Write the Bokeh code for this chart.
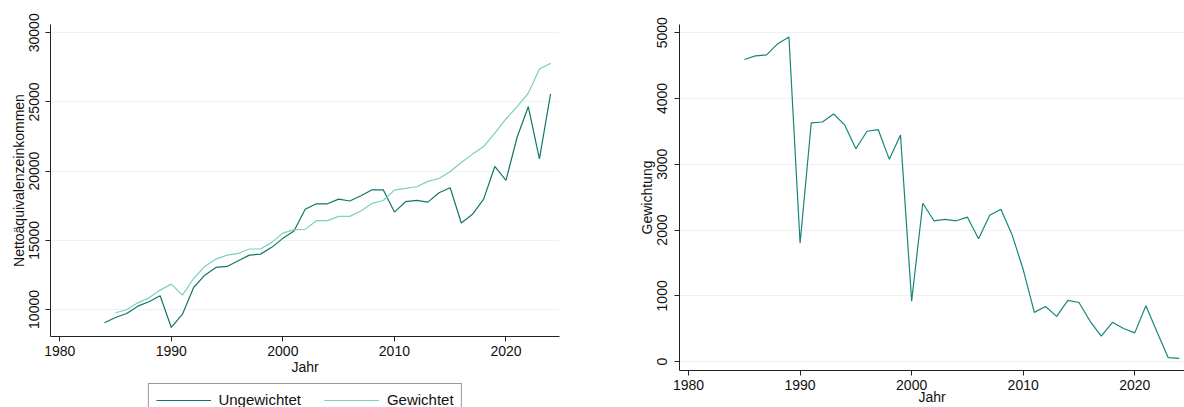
from bokeh.plotting import figure
from bokeh.layouts import row, column
from bokeh.models import Legend, LegendItem, FixedTicker, Range1d
from bokeh.embed import file_html
from bokeh.resources import INLINE

# ---- data ----
years_u = list(range(1984, 2025))
ungewichtet = [9035, 9420, 9710, 10240, 10555, 10990, 8700, 9660, 11590, 12480,
               13040, 13110, 13520, 13930, 14000, 14490, 15140, 15670, 17240, 17640,
               17640, 17980, 17840, 18220, 18650, 18650, 17040, 17790, 17880, 17760,
               18440, 18800, 16250, 16880, 17980, 20340, 19330, 22450, 24660, 20890,
               25580]
years_g = list(range(1985, 2025))
gewichtet = [9760, 9980, 10480, 10840, 11400, 11830, 11040, 12240, 13110, 13640,
             13930, 14050, 14370, 14370, 14850, 15520, 15770, 15790, 16420, 16420,
             16730, 16730, 17120, 17670, 17880, 18630, 18750, 18870, 19260, 19470,
             19980, 20630, 21230, 21780, 22740, 23770, 24660, 25630, 27380, 27790]
years_w = list(range(1985, 2025))
gewichtung = [4593, 4648, 4663, 4834, 4935, 1799, 3628, 3643, 3764, 3598,
              3236, 3502, 3528, 3075, 3447, 920, 2407, 2141, 2161, 2141,
              2196, 1869, 2226, 2317, 1930, 1400, 749, 839, 688, 930,
              899, 613, 387, 598, 503, 437, 849, 450, 60, 50]
x_ticks = [1980, 1990, 2000, 2010, 2020]
y_ticks_left = [10000, 15000, 20000, 25000, 30000]
y_ticks_right = [0, 1000, 2000, 3000, 4000, 5000]
legend_labels = ["Ungewichtet", "Gewichtet"]

FONT = "Liberation Sans"
FS = "14px"
DARK = "#11766a"
LIGHT = "#7fcfb9"
RIGHTC = "#168679"
GRID = "#edf3f3"


def style(p, xticks, yticks, xlabel, ylabel, ystand):
    p.outline_line_color = None
    p.background_fill_color = "white"
    p.border_fill_color = "white"
    p.xgrid.visible = False
    p.ygrid.grid_line_color = GRID
    p.ygrid.grid_line_width = 1
    p.xaxis.ticker = FixedTicker(ticks=xticks)
    p.yaxis.ticker = FixedTicker(ticks=yticks)
    p.xaxis.axis_label = xlabel
    p.yaxis.axis_label = ylabel
    for ax in (p.xaxis, p.yaxis):
        ax.axis_line_color = "#222222"
        ax.major_tick_line_color = "#222222"
        ax.minor_tick_line_color = None
        ax.major_tick_out = 5
        ax.major_tick_in = 0
        ax.major_label_text_font = FONT
        ax.major_label_text_font_size = FS
        ax.major_label_text_color = "#111111"
        ax.axis_label_text_font = FONT
        ax.axis_label_text_font_size = FS
        ax.axis_label_text_font_style = "normal"
        ax.axis_label_text_color = "#111111"
        ax.axis_label_standoff = 0
    p.xaxis.major_label_standoff = 4
    p.yaxis.major_label_standoff = ystand
    p.yaxis.major_label_orientation = "vertical"


p1 = figure(width=600, height=382, output_backend="svg", toolbar_location=None,
            x_range=Range1d(1979.17, 2024.8), y_range=Range1d(8046, 30600),
            min_border_left=50, min_border_right=41, min_border_top=24,
            min_border_bottom=46)
style(p1, x_ticks, y_ticks_left, "Jahr", "Nettoäquivalenzeinkommen", 6)
p1.line(years_u, ungewichtet, line_color=DARK, line_width=1.2)
p1.line(years_g, gewichtet, line_color=LIGHT, line_width=1.2)

# separate strip for the legend under the left chart (series drawn off-range)
legfig = figure(width=600, height=25, output_backend="svg", toolbar_location=None,
                x_range=Range1d(0, 1), y_range=Range1d(0, 1),
                min_border_left=9, min_border_right=0,
                min_border_top=0, min_border_bottom=0)
legfig.axis.visible = False
legfig.grid.visible = False
legfig.outline_line_color = None
legfig.background_fill_alpha = 0
legfig.border_fill_alpha = 0
lr1 = legfig.line(years_u, ungewichtet, line_color=DARK, line_width=1.2)
lr2 = legfig.line(years_g, gewichtet, line_color=LIGHT, line_width=1.2)
legend = Legend(items=[LegendItem(label=legend_labels[0], renderers=[lr1]),
                       LegendItem(label=legend_labels[1], renderers=[lr2])],
                orientation="horizontal", location="top_center",
                glyph_width=55, glyph_height=16, label_standoff=8, spacing=23,
                padding=7, margin=1, border_line_color="#333333",
                border_line_width=1, background_fill_color="white",
                label_text_font=FONT, label_text_font_size="15px",
                label_text_color="#111111", label_height=16)
legfig.add_layout(legend, "center")

p2 = figure(width=584, height=407, output_backend="svg", toolbar_location=None,
            x_range=Range1d(1979.19, 2024.46), y_range=Range1d(-135, 5125),
            min_border_left=79, min_border_right=0, min_border_top=24,
            min_border_bottom=34)
style(p2, x_ticks, y_ticks_right, "Jahr", "Gewichtung", 7)
p2.xaxis.axis_label_standoff = -4
p2.line(years_w, gewichtung, line_color=RIGHTC, line_width=1.2)

layout = row(column(p1, legfig), p2)
open("out.html", "w").write(file_html(layout, INLINE))
